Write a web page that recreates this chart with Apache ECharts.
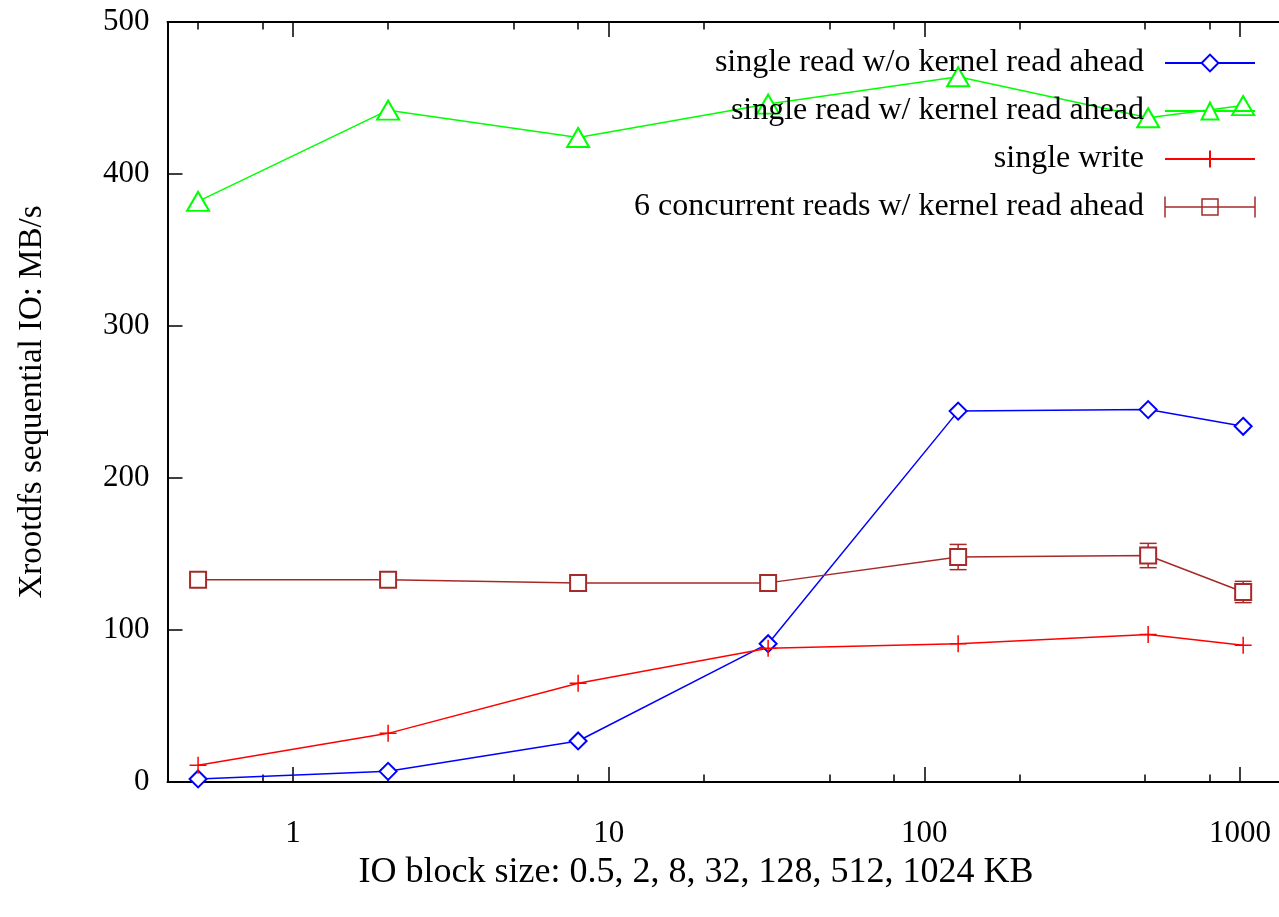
<!DOCTYPE html>
<html><head><meta charset="utf-8">
<script src="https://cdn.jsdelivr.net/npm/echarts@6/dist/echarts.min.js"></script>
<style>html,body{margin:0;padding:0;background:#fff}#c{width:1279px;height:917px}</style>
</head><body><div id="c"></div>
<script>
// ---- data ----
const blockSizes = [0.5, 2, 8, 32, 128, 512, 1024];
const readNoRA = [2, 7, 27, 91, 244, 245, 234];
const readRA = [382, 442, 424, 446, 464, 437, 445];
const writeSingle = [11, 32, 65, 88, 91, 97, 90];
const concurrentRA = [133, 133, 131, 131, 148, 149, 125];
const concurrentErr = [2, 2, 5, 5, 8.3, 8, 7];
const xMajorTicks = [1, 10, 100, 1000];
const xMinorTicks = [0.5, 0.8, 2, 5, 8, 20, 50, 80, 200, 500, 800];
const seriesNames = ['single read w/o kernel read ahead', 'single read w/ kernel read ahead', 'single write', '6 concurrent reads w/ kernel read ahead'];
const xTitle = 'IO block size: 0.5, 2, 8, 32, 128, 512, 1024 KB';
const yTitle = 'Xrootdfs sequential IO: MB/s';

const FONT = 'Liberation Serif';
const BLUE = '#0000ff', GREEN = '#00ff00', RED = '#ff0000', BROWN = '#a52a2a';
const pair = (ys) => blockSizes.map((x, i) => [x, ys[i]]);

function xAxisDef(pos, major) {
  return {
    type: 'log', logBase: 10, min: 0.4, max: 1330, position: pos, gridIndex: 0,
    axisLine: { show: major, onZero: false, lineStyle: { color: '#000', width: 2 } },
    axisTick: { show: true, inside: true, length: major ? 15 : 7.5,
      customValues: major ? xMajorTicks : xMinorTicks,
      lineStyle: { color: '#000', width: 1.5 } },
    axisLabel: { show: major && pos === 'bottom', customValues: xMajorTicks, margin: 36,
      fontFamily: FONT, fontSize: 31, color: '#000', formatter: (v) => String(v) },
    splitLine: { show: false }, minorTick: { show: false }
  };
}

const chart = echarts.init(document.getElementById('c'), null, { renderer: 'canvas' });
chart.setOption({
  animation: false,
  backgroundColor: '#fff',
  grid: { left: 167.5, top: 22, width: 1111.5, height: 760, containLabel: false },
  xAxis: [xAxisDef('bottom', true), xAxisDef('bottom', false), xAxisDef('top', true), xAxisDef('top', false)],
  yAxis: {
    type: 'value', min: 0, max: 500, interval: 100,
    name: yTitle, nameLocation: 'middle', nameGap: 119, nameRotate: 90,
    nameTextStyle: { fontFamily: FONT, fontSize: 33, color: '#000' },
    axisLine: { show: true, lineStyle: { color: '#000', width: 2 } },
    axisTick: { show: true, inside: true, length: 15, lineStyle: { color: '#000', width: 1.5 } },
    axisLabel: { margin: 18, fontFamily: FONT, fontSize: 31, color: '#000' },
    splitLine: { show: false }
  },
  legend: {
    orient: 'vertical', align: 'right', right: 18, top: 42,
    itemWidth: 90, itemHeight: 21, itemGap: 16, selectedMode: false,
    textStyle: { fontFamily: FONT, fontSize: 32, color: '#000', padding: [0, 16, 0, 0] },
    data: [
      { name: seriesNames[0] },
      { name: seriesNames[1] },
      { name: seriesNames[2] },
      { name: seriesNames[3], icon: 'path://M0,0V21M0,10.5H90M90,0V21M37,2.5H53V18.5H37Z',
        itemStyle: { color: 'rgba(0,0,0,0)', borderColor: BROWN, borderWidth: 1.5 } }
    ]
  },
  graphic: [{ type: 'text', x: 696, y: 873,
    style: { text: xTitle, textAlign: 'center', textVerticalAlign: 'middle', fontFamily: FONT, fontSize: 36, fill: '#000' } }],
  series: [
    { name: seriesNames[0], type: 'line', data: pair(readNoRA), symbol: 'emptyDiamond', symbolSize: 17,
      lineStyle: { color: BLUE, width: 1.5 }, itemStyle: { color: BLUE, borderColor: BLUE, borderWidth: 1.5 } },
    { name: seriesNames[1], type: 'line', data: pair(readRA), symbol: 'emptyTriangle', symbolSize: [22, 19],
      lineStyle: { color: GREEN, width: 1.5 }, itemStyle: { color: GREEN, borderColor: GREEN, borderWidth: 1.5 } },
    { name: seriesNames[2], type: 'line', data: pair(writeSingle), symbol: 'path://M8,0V16M0,8H16', symbolSize: 17,
      lineStyle: { color: RED, width: 1.5 }, itemStyle: { color: 'rgba(0,0,0,0)', borderColor: RED, borderWidth: 1.5 } },
    { name: seriesNames[3], type: 'line', data: pair(concurrentRA), symbol: 'emptyRect', symbolSize: 16,
      lineStyle: { color: BROWN, width: 1.5 }, itemStyle: { color: BROWN, borderColor: BROWN, borderWidth: 1.5 } },
    { name: 'errorbars', type: 'custom', z: 3,
      data: blockSizes.map((x, i) => [x, concurrentRA[i] - concurrentErr[i], concurrentRA[i] + concurrentErr[i]]),
      encode: { x: 0, y: [1, 2] },
      renderItem: (params, api) => {
        const x = api.value(0);
        const top = api.coord([x, api.value(2)]);
        const bot = api.coord([x, api.value(1)]);
        const w = 8.5;
        const st = { stroke: BROWN, lineWidth: 1.5, fill: null };
        return { type: 'group', children: [
          { type: 'line', shape: { x1: top[0], y1: top[1], x2: bot[0], y2: bot[1] }, style: st },
          { type: 'line', shape: { x1: top[0] - w, y1: top[1], x2: top[0] + w, y2: top[1] }, style: st },
          { type: 'line', shape: { x1: bot[0] - w, y1: bot[1], x2: bot[0] + w, y2: bot[1] }, style: st }
        ] };
      }
    }
  ]
});
</script></body></html>
